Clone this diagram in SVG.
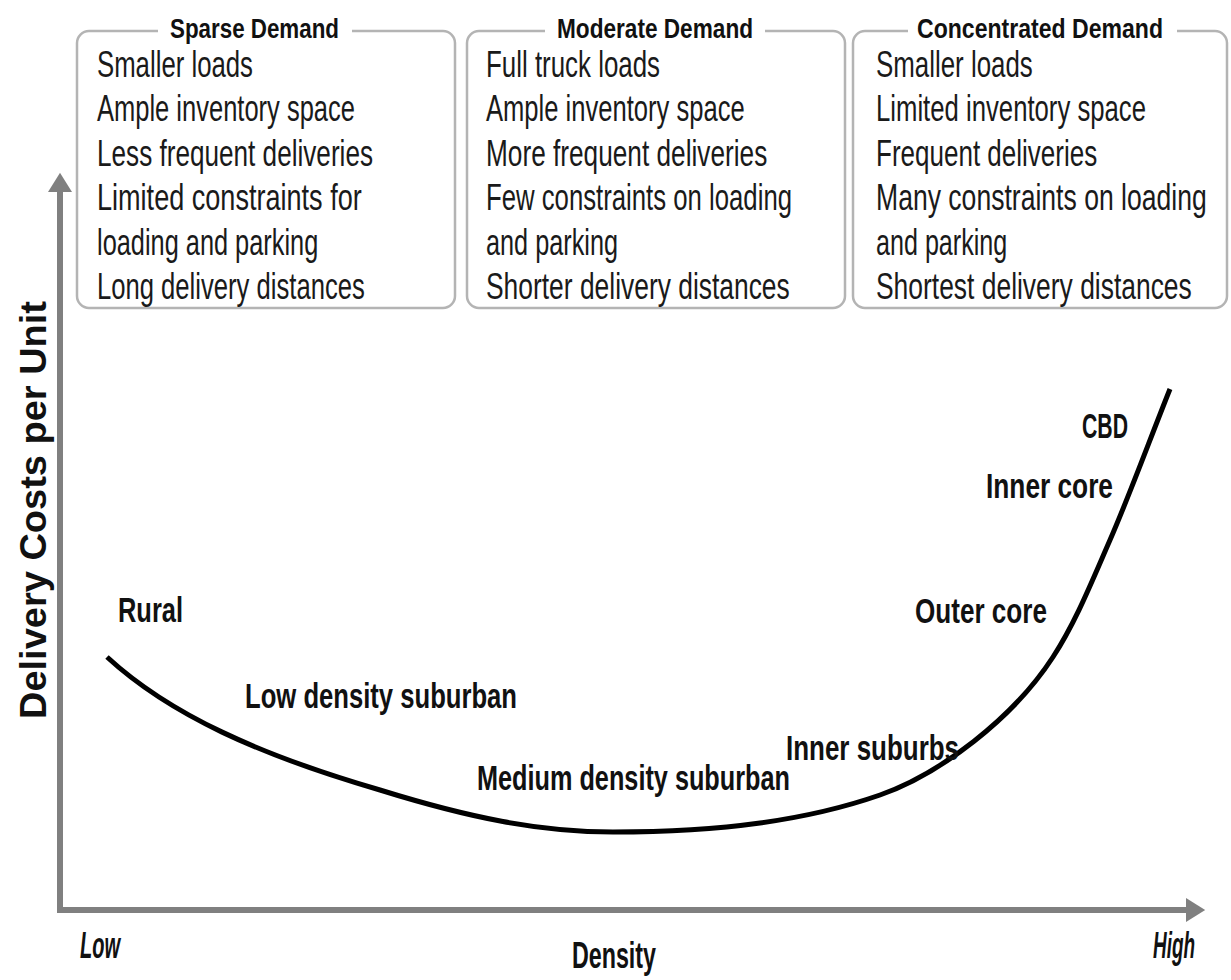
<svg xmlns="http://www.w3.org/2000/svg" width="1231" height="980" viewBox="0 0 1231 980">
<style>
.box{fill:#fff;stroke:#b4b4b4;stroke-width:2.5}
.gap{fill:#fff}
.ttl{font-family:"Liberation Sans",Arial,sans-serif;font-weight:bold;font-size:28px;fill:#111}
.body{font-family:"Liberation Sans",Arial,sans-serif;font-size:37px;fill:#1a1a1a}
.lbl{font-family:"Liberation Sans",Arial,sans-serif;font-weight:bold;font-size:35px;fill:#111}
.ax{font-family:"Liberation Sans",Arial,sans-serif;font-weight:bold;font-size:37px;fill:#111}
.axis{stroke:#808080;stroke-width:6;fill:none}
.curve{stroke:#000;stroke-width:5;fill:none}
</style>
<defs>
<marker id="ah" markerWidth="4" markerHeight="4" refX="1" refY="2" orient="auto" markerUnits="strokeWidth">
<path d="M0,0 L3.2,2 L0,4 Z" fill="#808080"/>
</marker>
</defs>
<rect width="1231" height="980" fill="#fff"/>

<g id="sparse">
<rect class="box" x="77" y="31" width="378" height="277" rx="12"/>
<rect class="gap" x="158" y="25" width="194" height="12"/>
<text class="ttl" x="170" y="38" textLength="169" lengthAdjust="spacingAndGlyphs">Sparse Demand</text>
<g transform="translate(97,0) scale(0.75,1)">
<text class="body" x="0" y="77" textLength="208" lengthAdjust="spacingAndGlyphs">Smaller loads</text>
<text class="body" x="0" y="121.5" textLength="344" lengthAdjust="spacingAndGlyphs">Ample inventory space</text>
<text class="body" x="0" y="166" textLength="368" lengthAdjust="spacingAndGlyphs">Less frequent deliveries</text>
<text class="body" x="0" y="210.5" textLength="353" lengthAdjust="spacingAndGlyphs">Limited constraints for</text>
<text class="body" x="0" y="255" textLength="295" lengthAdjust="spacingAndGlyphs">loading and parking</text>
<text class="body" x="0" y="299.5" textLength="357" lengthAdjust="spacingAndGlyphs">Long delivery distances</text>
</g>
</g>

<g id="moderate">
<rect class="box" x="467" y="31" width="378" height="277" rx="12"/>
<rect class="gap" x="545" y="25" width="220" height="12"/>
<text class="ttl" x="557" y="38" textLength="196" lengthAdjust="spacingAndGlyphs">Moderate Demand</text>
<g transform="translate(486,0) scale(0.75,1)">
<text class="body" x="0" y="77" textLength="232" lengthAdjust="spacingAndGlyphs">Full truck loads</text>
<text class="body" x="0" y="121.5" textLength="345" lengthAdjust="spacingAndGlyphs">Ample inventory space</text>
<text class="body" x="0" y="166" textLength="375" lengthAdjust="spacingAndGlyphs">More frequent deliveries</text>
<text class="body" x="0" y="210.5" textLength="408" lengthAdjust="spacingAndGlyphs">Few constraints on loading</text>
<text class="body" x="0" y="255" textLength="176" lengthAdjust="spacingAndGlyphs">and parking</text>
<text class="body" x="0" y="299.5" textLength="405" lengthAdjust="spacingAndGlyphs">Shorter delivery distances</text>
</g>
</g>

<g id="concentrated">
<rect class="box" x="853" y="31" width="374" height="277" rx="12"/>
<rect class="gap" x="908" y="25" width="269" height="12"/>
<text class="ttl" x="917" y="38" textLength="246" lengthAdjust="spacingAndGlyphs">Concentrated Demand</text>
<g transform="translate(876,0) scale(0.75,1)">
<text class="body" x="0" y="77" textLength="209" lengthAdjust="spacingAndGlyphs">Smaller loads</text>
<text class="body" x="0" y="121.5" textLength="360" lengthAdjust="spacingAndGlyphs">Limited inventory space</text>
<text class="body" x="0" y="166" textLength="295" lengthAdjust="spacingAndGlyphs">Frequent deliveries</text>
<text class="body" x="0" y="210.5" textLength="441" lengthAdjust="spacingAndGlyphs">Many constraints on loading</text>
<text class="body" x="0" y="255" textLength="175" lengthAdjust="spacingAndGlyphs">and parking</text>
<text class="body" x="0" y="299.5" textLength="421" lengthAdjust="spacingAndGlyphs">Shortest delivery distances</text>
</g>
</g>

<g id="connectors">
<path class="axis" d="M60,910 L60,186" marker-end="url(#ah)"/>
<path class="axis" d="M57,910 L1192,910" marker-end="url(#ah)"/>
<path class="curve" d="M107,657 C170,715 260,755 380,790 C470,818 540,832 613,832 C663,832 715.5,829.2 760,823 C804.5,816.8 844.2,807.5 880,795 C940,774 1013,718.6 1053,657 C1075.5,622.3 1090.5,584.7 1110,540 C1129.5,495.3 1150,439 1170,389"/>
</g>

<g id="axis-labels">
<text class="ax" transform="translate(46,719) rotate(-90)" x="0" y="0" textLength="418" lengthAdjust="spacingAndGlyphs">Delivery Costs per Unit</text>
<text class="ax" x="572" y="968" textLength="84" lengthAdjust="spacingAndGlyphs">Density</text>
<text class="ax" x="80" y="958" font-style="italic" font-size="34" textLength="40" lengthAdjust="spacingAndGlyphs">Low</text>
<g transform="translate(1153,958) scale(0.75,1)"><text class="ax" x="0" y="0" font-style="italic" font-size="34" textLength="56" lengthAdjust="spacingAndGlyphs">High</text></g>
</g>

<g id="rural" transform="translate(118,622) scale(0.75,1)"><text class="lbl" x="0" y="0" textLength="86.7" lengthAdjust="spacingAndGlyphs">Rural</text></g>
<g id="low-density" transform="translate(245,708) scale(0.75,1)"><text class="lbl" x="0" y="0" textLength="362.7" lengthAdjust="spacingAndGlyphs">Low density suburban</text></g>
<g id="medium-density" transform="translate(477,790) scale(0.75,1)"><text class="lbl" x="0" y="0" textLength="417.3" lengthAdjust="spacingAndGlyphs">Medium density suburban</text></g>
<g id="inner-suburbs" transform="translate(786,760) scale(0.75,1)"><text class="lbl" x="0" y="0" textLength="230.7" lengthAdjust="spacingAndGlyphs">Inner suburbs</text></g>
<g id="outer-core" transform="translate(915,623) scale(0.75,1)"><text class="lbl" x="0" y="0" textLength="176" lengthAdjust="spacingAndGlyphs">Outer core</text></g>
<g id="inner-core" transform="translate(986,498) scale(0.75,1)"><text class="lbl" x="0" y="0" textLength="169.3" lengthAdjust="spacingAndGlyphs">Inner core</text></g>
<g id="cbd" transform="translate(1082,438) scale(0.75,1)"><text class="lbl" x="0" y="0" textLength="61.3" lengthAdjust="spacingAndGlyphs">CBD</text></g>
</svg>
